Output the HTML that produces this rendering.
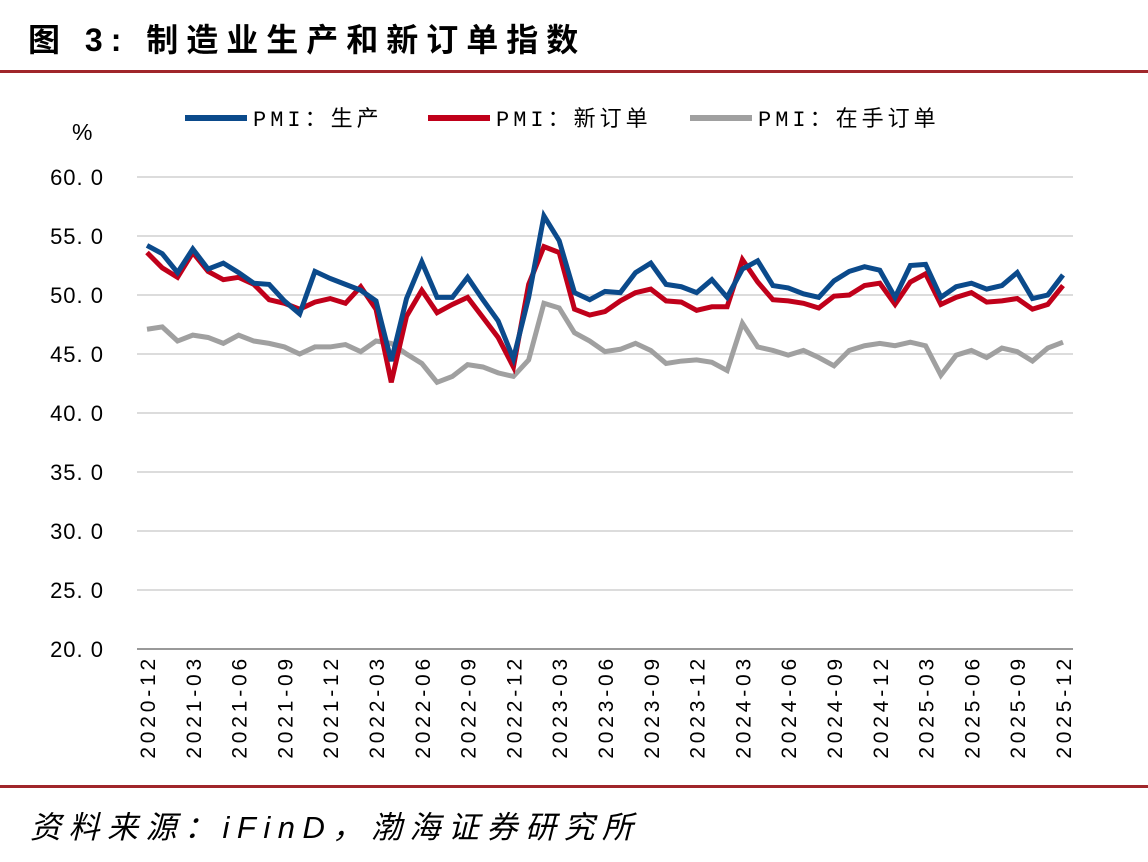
<!DOCTYPE html>
<html><head><meta charset="utf-8"><style>
body{margin:0;background:#fff;width:1148px;height:857px;overflow:hidden;font-family:"Liberation Sans","Noto Sans CJK SC",sans-serif}
</style></head><body>
<svg width="1148" height="857" xmlns="http://www.w3.org/2000/svg" id="chart">
<text x="28" y="51" font-size="32" font-weight="bold" letter-spacing="8" font-family="Liberation Sans, Noto Sans CJK SC, sans-serif" fill="#000">图 3:  制造业生产和新订单指数</text>
<rect x="0" y="70" width="1148" height="3" fill="#a0262a"/>
<rect x="0" y="785" width="1148" height="3" fill="#a0262a"/>
<text x="30" y="838" font-size="31" font-style="italic" letter-spacing="7.5" font-family="Liberation Sans, Noto Sans CJK SC, sans-serif" fill="#000">资料来源：iFinD，渤海证券研究所</text>
<text x="72" y="140" font-size="23" fill="#000">%</text>
<g id="legend"></g>
<g id="grid"></g><g id="lines"></g><g id="xl"></g>
</svg>
<script>
const categories=[];for(let y=2020,m=12;categories.length<61;){categories.push(y+'-'+String(m).padStart(2,'0'));m++;if(m>12){m=1;y++;}}
const production=[54.2,53.5,51.9,53.9,52.2,52.7,51.9,51.0,50.9,49.5,48.4,52.0,51.4,50.9,50.4,49.5,44.4,49.7,52.8,49.8,49.8,51.5,49.6,47.8,44.6,49.8,56.7,54.6,50.2,49.6,50.3,50.2,51.9,52.7,50.9,50.7,50.2,51.3,49.8,52.2,52.9,50.8,50.6,50.1,49.8,51.2,52.0,52.4,52.1,49.8,52.5,52.6,49.8,50.7,51.0,50.5,50.8,51.9,49.7,50.0,51.7];
const newOrders=[53.6,52.3,51.5,53.6,52.0,51.3,51.5,50.9,49.6,49.3,48.8,49.4,49.7,49.3,50.7,48.8,42.6,48.2,50.4,48.5,49.2,49.8,48.1,46.4,43.9,50.9,54.1,53.6,48.8,48.3,48.6,49.5,50.2,50.5,49.5,49.4,48.7,49.0,49.0,53.0,51.1,49.6,49.5,49.3,48.9,49.9,50.0,50.8,51.0,49.2,51.1,51.8,49.2,49.8,50.2,49.4,49.5,49.7,48.8,49.2,50.8];
const backlog=[47.1,47.3,46.1,46.6,46.4,45.9,46.6,46.1,45.9,45.6,45.0,45.6,45.6,45.8,45.2,46.1,45.9,45.0,44.2,42.6,43.1,44.1,43.9,43.4,43.1,44.5,49.3,48.9,46.8,46.1,45.2,45.4,45.9,45.3,44.2,44.4,44.5,44.3,43.6,47.6,45.6,45.3,44.9,45.3,44.7,44.0,45.3,45.7,45.9,45.7,46.0,45.7,43.2,44.9,45.3,44.7,45.5,45.2,44.4,45.5,46.0];
const yTicks=[20,25,30,35,40,45,50,55,60];
const seriesNames=['PMI：生产','PMI：新订单','PMI：在手订单'];
const colors=['#0b4a8b','#c0001a','#a0a0a0'];
const NS='http://www.w3.org/2000/svg';
const x=i=>147+i*(1063-147)/(categories.length-1);
const y=v=>649-(v-20)*(649-177)/40;
function mk(t,a,p){const e=document.createElementNS(NS,t);for(const k in a)e.setAttribute(k,a[k]);p.appendChild(e);return e;}
const grid=document.getElementById('grid');
yTicks.forEach(v=>{
 const l=mk('line',{x1:137,x2:1073,y1:y(v),y2:y(v),stroke:v===20?'#999':'#dcdcdc','stroke-width':2},grid);
 
 
 const t=mk('text',{x:104,y:y(v)+8,'text-anchor':'end','font-size':22,'letter-spacing':1,fill:'#000'},grid);
 t.textContent=v.toFixed(1).replace('.','. ');
 
 
});
const xl=document.getElementById('xl');
categories.forEach((c,i)=>{
 if(i%3)return;
 const t=mk('text',{x:0,y:0,transform:`translate(${x(i)+8},655) rotate(-90)`,'text-anchor':'end','font-size':21,'letter-spacing':3.8,fill:'#000'},xl);
 t.textContent=c;
 
 
});
const lines=document.getElementById('lines');
[backlog,newOrders,production].forEach((s,k)=>{
 const ci=2-k;
 const p=mk('polyline',{points:s.map((v,i)=>x(i)+','+y(v)).join(' '),fill:'none',stroke:colors[ci],'stroke-width':5,'stroke-linejoin':'miter'},lines);
 
 
});
const lg=document.getElementById('legend');
const lx=[185,428,690];
seriesNames.forEach((n,i)=>{
 const l=mk('line',{x1:lx[i],x2:lx[i]+62,y1:118,y2:118,stroke:colors[i],'stroke-width':6},lg);
 
 
 const t=mk('text',{x:lx[i]+68,y:126,'font-size':22,'letter-spacing':4,fill:'#000','font-family':'Liberation Mono, Noto Sans CJK SC, monospace'},lg);
 t.textContent=n;
 
 
});
</script>
</body></html>
